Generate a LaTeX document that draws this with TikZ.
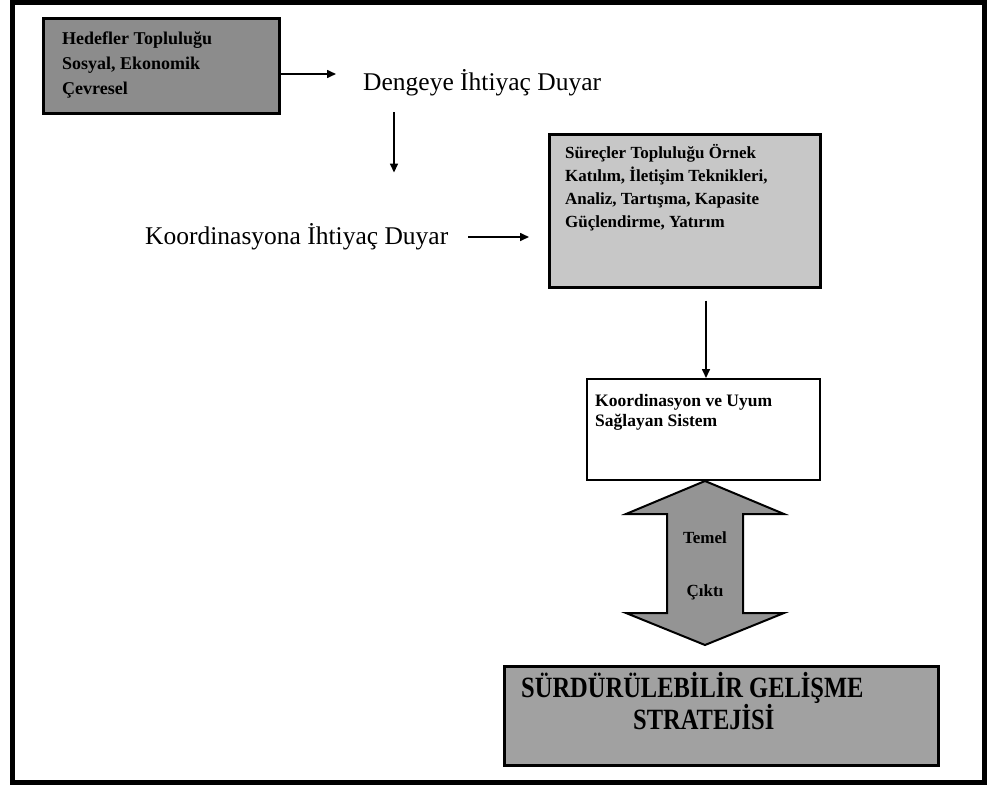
\documentclass[tikz,border=0pt]{standalone}
\usepackage{fontspec}
\setmainfont{Liberation Serif}
\usetikzlibrary{arrows.meta}
\definecolor{boxdark}{gray}{0.55}
\definecolor{boxlight}{gray}{0.78}
\definecolor{boxmid}{gray}{0.63}
\definecolor{arrowfill}{gray}{0.58}
\tikzset{
  arr/.style={line width=1.6pt, -{Triangle[length=9pt,width=8pt]}},
  plaintxt/.style={inner sep=0pt, font=\fontsize{25.5}{30}\selectfont},
  boxtxt/.style={inner sep=0pt, align=left, font=\bfseries\fontsize{17}{22.5}\selectfont},
  shaded/.style={draw, inner sep=0pt, anchor=north west},
  bigarrow/.style={draw, line width=2pt, fill=arrowfill, line join=miter},
  arrtxt/.style={inner sep=0pt, font=\bfseries\fontsize{17}{20}\selectfont, text=black}
}
\begin{document}
\begin{tikzpicture}[x=1pt,y=-1pt]
\useasboundingbox (0,0) rectangle (988,787);
\draw[line width=5pt] (12.5,2.5) rectangle (984.5,782.5);

% boxes
\node[shaded, line width=3pt, fill=boxdark, minimum width=236pt, minimum height=95pt] (b1) at (42,17) {};
\node[boxtxt, anchor=north west, font=\bfseries\fontsize{18}{25}\selectfont] (b1t) at (62,31.5) {Hedefler Topluluğu\\Sosyal, Ekonomik\\Çevresel};

\node[shaded, line width=2.5pt, fill=boxlight, minimum width=271pt, minimum height=153pt] (b2) at (548,133) {};
\node[boxtxt, anchor=north west, font=\bfseries\fontsize{17}{23}\selectfont] (b2t) at (565,144) {Süreçler Topluluğu Örnek\\Katılım, İletişim Teknikleri,\\Analiz, Tartışma, Kapasite\\Güçlendirme, Yatırım};

\node[shaded, line width=2pt, fill=white, minimum width=233pt, minimum height=101pt] (b3) at (586,378) {};
\node[boxtxt, anchor=north west, font=\bfseries\fontsize{17.5}{20}\selectfont] (b3t) at (595,394.5) {Koordinasyon ve Uyum\\Sağlayan Sistem};

\node[shaded, line width=3pt, fill=boxmid, minimum width=434pt, minimum height=99pt] (b4) at (503,665) {};
\node[boxtxt, anchor=north west, font=\bfseries\fontsize{24.5}{32}\selectfont] (b4t) at (521,672) {\scalebox{1}[1.2]{SÜRDÜRÜLEBİLİR GELİŞME}\\\hspace*{112pt}\scalebox{1}[1.2]{STRATEJİSİ}};

% plain texts
\node[plaintxt, anchor=west] (d1) at (363,83) {Dengeye İhtiyaç Duyar};
\node[plaintxt, anchor=west] (k1) at (145,237) {Koordinasyona İhtiyaç Duyar};

% connectors
\draw[arr, shorten >=27pt] (b1.east |- 0,74) -- (d1.west |- 0,74);
\draw[arr, shorten <=16pt, shorten >=51pt] (d1.south -| 394,0) -- (k1.north -| 394,0);
\draw[arr, shorten <=20pt, shorten >=19pt] (k1.east) -- (b2.west |- k1.east);
\draw[arr, shorten <=12pt] (b2.south -| 706,0) -- (b3.north -| 706,0);

% double arrow
\draw[bigarrow] (705,481) -- (784,514) -- (743,514) -- (743,613) -- (784,613) -- (705,645)
  -- (626,613) -- (667,613) -- (667,514) -- (626,514) -- cycle;
\node[arrtxt] (temel) at (705,538) {Temel};
\node[arrtxt] (cikti) at (705,592) {Çıktı};
\end{tikzpicture}
\end{document}
